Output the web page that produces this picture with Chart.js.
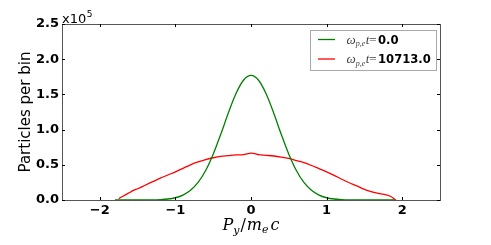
<!DOCTYPE html>
<html><head><meta charset="utf-8">
<script src="https://cdn.jsdelivr.net/npm/chart.js@4/dist/chart.umd.min.js"></script>
<style>html,body{margin:0;padding:0;background:#fff}canvas{display:block}</style>
</head><body>
<canvas id="c" width="491" height="245"></canvas>
<script>
// Momentum P_y/m_e c (x) and particles per bin in units of 1e5 (y)
const greenX = [-1.8,-1.7,-1.6,-1.5,-1.4,-1.3,-1.2,-1.1,-1.0,-0.9,-0.8,-0.7,-0.6,-0.5,-0.4,-0.3,-0.2,-0.1,0.0,0.1,0.2,0.3,0.4,0.5,0.6,0.7,0.8,0.9,1.0,1.1,1.2,1.3,1.4,1.5,1.6,1.7,1.8,1.9];
const greenY = [0,0,0,0,0.001,0.002,0.006,0.014,0.032,0.069,0.137,0.249,0.419,0.651,0.933,1.235,1.508,1.701,1.77,1.701,1.508,1.235,0.933,0.651,0.419,0.249,0.137,0.069,0.032,0.014,0.006,0.002,0.001,0,0,0,0,0];
const redX = [-1.75,-1.7,-1.6,-1.55,-1.5,-1.4,-1.3,-1.2,-1.1,-1.0,-0.9,-0.8,-0.7,-0.6,-0.5,-0.4,-0.3,-0.2,-0.1,0.0,0.05,0.1,0.2,0.3,0.4,0.5,0.6,0.7,0.8,0.9,1.0,1.1,1.2,1.3,1.4,1.5,1.6,1.7,1.8,1.85,1.9,1.92];
const redY = [0.02,0.05,0.11,0.14,0.16,0.21,0.26,0.31,0.355,0.40,0.45,0.50,0.54,0.575,0.60,0.62,0.63,0.64,0.645,0.665,0.66,0.645,0.635,0.625,0.61,0.59,0.56,0.53,0.49,0.445,0.40,0.35,0.295,0.245,0.20,0.15,0.115,0.09,0.07,0.05,0.01,0.0];
const seriesTimes = ['0.0','10713.0'];
const xTicks = [-2,-1,0,1,2];
const yTicks = [0.0,0.5,1.0,1.5,2.0,2.5];

const toPts = (xs, ys) => xs.map((x, i) => ({x: x, y: ys[i]}));

const overlay = {
  id: 'overlay',
  afterDraw(chart) {
    const ctx = chart.ctx, a = chart.chartArea;
    const xs = chart.scales.x, ys = chart.scales.y;
    ctx.save();
    // frame
    ctx.strokeStyle = '#555';
    ctx.lineWidth = 1;
    ctx.strokeRect(Math.round(a.left) + 0.5, Math.round(a.top) + 0.5, Math.round(a.right - a.left), Math.round(a.bottom - a.top));
    // inward ticks
    ctx.strokeStyle = '#000';
    ctx.beginPath();
    xTicks.forEach(v => {
      const px = Math.round(xs.getPixelForValue(v)) + 0.5;
      ctx.moveTo(px, a.bottom); ctx.lineTo(px, a.bottom - 3);
      ctx.moveTo(px, a.top); ctx.lineTo(px, a.top + 3);
    });
    yTicks.forEach(v => {
      const py = Math.round(ys.getPixelForValue(v)) + 0.5;
      ctx.moveTo(a.left, py); ctx.lineTo(a.left + 3, py);
      ctx.moveTo(a.right, py); ctx.lineTo(a.right - 3, py);
    });
    ctx.stroke();
    // offset text x10^5
    ctx.fillStyle = '#000';
    ctx.textBaseline = 'alphabetic';
    ctx.textAlign = 'left';
    ctx.font = '13px "DejaVu Sans"';
    ctx.fillText('x10', a.left, a.top - 1);
    const w10 = ctx.measureText('x10').width;
    ctx.font = '9px "DejaVu Sans"';
    ctx.fillText('5', a.left + w10 + 0.5, a.top - 7);
    // y title
    ctx.save();
    ctx.translate(30, (a.top + a.bottom) / 2);
    ctx.rotate(-Math.PI / 2);
    ctx.textAlign = 'center';
    ctx.font = '15px "DejaVu Sans"';
    ctx.fillText('Particles per bin', 0, 0);
    ctx.restore();
    // x title: P_y / m_e c
    const big = 'italic 16px "DejaVu Serif"', sub = 'italic 11px "DejaVu Serif"', up = '16px "DejaVu Serif"';
    const parts = [['P', big, 0], ['y', sub, 4], ['/', up, 0], ['m', big, 0], ['e', sub, 3], ['c', big, 0]];
    const gaps = [0, 0, 1, 1, 0, 2];
    let total = 0;
    parts.forEach((p, i) => { ctx.font = p[1]; total += ctx.measureText(p[0]).width + gaps[i]; });
    let cx = (a.left + a.right) / 2 - total / 2;
    const base = 229.5;
    parts.forEach((p, i) => {
      cx += gaps[i];
      ctx.font = p[1];
      ctx.fillText(p[0], cx, base + p[2]);
      cx += ctx.measureText(p[0]).width;
    });
    // legend
    const lx = 310.5, ly = 30.5, lw = 126, lh = 40;
    ctx.fillStyle = '#fff';
    ctx.fillRect(lx, ly, lw, lh);
    ctx.strokeStyle = '#aaa';
    ctx.lineWidth = 1;
    ctx.strokeRect(lx, ly, lw, lh);
    const cols = ['#008000', '#ff0000'];
    const rows = [39.5, 59];
    rows.forEach((ry, i) => {
      ctx.strokeStyle = cols[i];
      ctx.lineWidth = 1.3;
      ctx.beginPath(); ctx.moveTo(318, ry); ctx.lineTo(335, ry); ctx.stroke();
      let tx = 346.5;
      const bl = ry + 4.3;
      ctx.fillStyle = '#444';
      ctx.font = 'italic 13px "Liberation Serif"';
      ctx.fillText('ω', tx, bl); tx += ctx.measureText('ω').width;
      ctx.font = 'italic 8px "Liberation Serif"';
      ctx.fillText('p,e', tx, bl + 2.5); tx += ctx.measureText('p,e').width + 0.5;
      ctx.font = 'italic 13px "Liberation Serif"';
      ctx.fillText('t', tx, bl);
      ctx.font = '13px "Liberation Serif"';
      ctx.textAlign = 'right';
      ctx.fillText('=', 376.5, bl);
      ctx.textAlign = 'left';
      ctx.fillStyle = '#000';
      ctx.font = 'bold 11.6px "DejaVu Sans"';
      ctx.fillText(seriesTimes[i], 378, bl);
    });
    ctx.restore();
  }
};

new Chart(document.getElementById('c'), {
  type: 'line',
  data: {
    datasets: [
      {label: 'ω_{p,e}t=' + seriesTimes[0], data: toPts(greenX, greenY), borderColor: '#008000', borderWidth: 1.3, pointRadius: 0, tension: 0.3, fill: false},
      {label: 'ω_{p,e}t=' + seriesTimes[1], data: toPts(redX, redY), borderColor: '#ff0000', borderWidth: 1.3, pointRadius: 0, tension: 0.3, fill: false}
    ]
  },
  options: {
    responsive: false,
    animation: false,
    layout: {padding: {left: 0, right: 51, top: 24, bottom: 0}},
    plugins: {legend: {display: false}, tooltip: {enabled: false}},
    scales: {
      x: {
        type: 'linear', min: -2.5, max: 2.5,
        afterFit: s => { s.height = 45; },
        afterBuildTicks: s => { s.ticks = xTicks.map(v => ({value: v})); },
        grid: {display: false, drawTicks: false},
        border: {display: false},
        ticks: {padding: 3, color: '#000', font: {family: 'DejaVu Sans', size: 13, weight: 'bold'},
          callback: v => (v < 0 ? '\u2212' + Math.abs(v) : String(v))}
      },
      y: {
        type: 'linear', min: 0, max: 2.5,
        afterFit: s => { s.width = 62; },
        afterBuildTicks: s => { s.ticks = yTicks.map(v => ({value: v})); },
        grid: {display: false, drawTicks: false},
        border: {display: false},
        ticks: {padding: 3, color: '#000', font: {family: 'DejaVu Sans', size: 13, weight: 'bold'},
          callback: v => Number(v).toFixed(1)}
      }
    }
  },
  plugins: [overlay]
});
</script>
</body></html>
